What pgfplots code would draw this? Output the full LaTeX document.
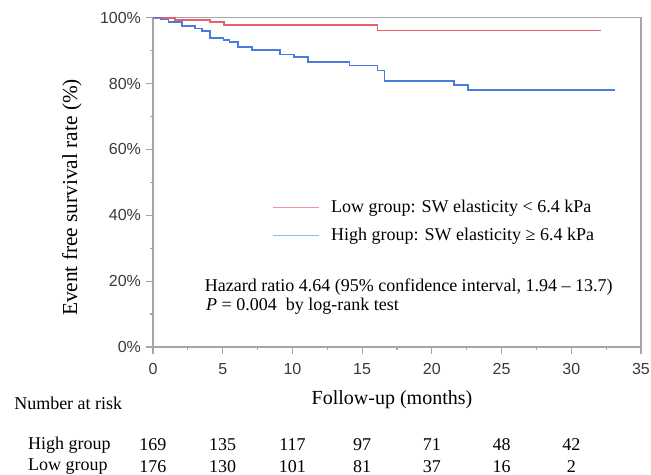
\documentclass[border=0pt]{standalone}
\usepackage{pgfplots}
\pgfplotsset{compat=1.18}
\usepackage{fontspec}
\setmainfont{Liberation Serif}
\newfontfamily\tickfont{Liberation Sans}
\definecolor{axgray}{HTML}{A6A6A6}
\definecolor{tickgray}{HTML}{3A3A3A}
\definecolor{kmred}{HTML}{E8606C}
\definecolor{kmblue}{HTML}{4A7BDF}
\definecolor{legred}{HTML}{F2959A}
\definecolor{legblue}{HTML}{8FBCEA}
\begin{document}
\begin{tikzpicture}[rt/.style={inner sep=0pt, font=\fontsize{13.5}{16}\selectfont}]
\useasboundingbox (-114.75pt,-96pt) rectangle (373.5pt,260.25pt);
\begin{axis}[
  at={(0pt,0pt)}, anchor=origin,
  x=10.457pt, y=2.47pt,
  xmin=0, xmax=35, ymin=0, ymax=100,
  clip=false,
  axis line style={axgray, line width=0.9pt},
  tick style={axgray, line width=0.9pt},
  tick align=outside,
  xtick pos=bottom, ytick pos=left,
  xtick={0,5,...,35}, ytick={0,20,...,100},
  minor xtick={2.5,7.5,...,32.5}, minor ytick={10,30,...,90},
  major tick length=5.5pt, minor tick length=2.5pt,
  /pgf/number format/assume math mode=true,
  ticklabel style={font=\tickfont\fontsize{12}{14}\selectfont, text=tickgray},
  xticklabel style={yshift=-3.5pt},
  yticklabel={\pgfmathprintnumber{\tick}\%},
  xlabel={Follow-up (months)},
  ylabel={Event free survival rate (\%)},
  xlabel style={font=\fontsize{15}{18}\selectfont, at={(axis description cs:0.4898,-0.161)}, anchor=center},
  ylabel style={font=\fontsize{16}{19}\selectfont, at={(axis description cs:-0.166,0.454)}, anchor=center},
  legend style={at={(axis cs:8.51,38.05)}, anchor=west, draw=none, fill=none,
    inner xsep=0pt, inner ysep=0pt, row sep=7.5pt, column sep=9pt,
    font=\fontsize{13.5}{16}\selectfont,
    nodes={inner sep=0pt, text height=10pt, text depth=3.5pt},
    cells={anchor=west}},
  legend image code/.code={\draw[#1] (0pt,0pt) -- (34.5pt,0pt);},
]
\addlegendimage{legred, line width=1pt}
\addlegendentry{Low group: SW elasticity < 6.4 kPa}
\addlegendimage{legblue, line width=1pt}
\addlegendentry{High group: SW elasticity ≥ 6.4 kPa}

% Low group (red)
\addplot[const plot, kmred, line width=1.3pt, forget plot] coordinates {
 (0,100) (1.6,99.4) (4.1,98.6) (5.1,97.7) (16.1,96.1) (32.1,96.1)};
% High group (blue)
\addplot[const plot, kmblue, line width=1.2pt, forget plot] coordinates {
 (0,100) (0.55,99.4) (1.1,98.7) (2.1,97.4) (3.0,96.7) (3.5,96.0) (4.1,93.8)
 (5.05,93.3) (5.5,92.6) (6.1,91.1) (7.1,90.1) (9.1,88.8) (10.1,88.1)
 (11.1,86.5) (14.1,85.5) (16.1,84.0) (16.6,80.7) (21.6,79.6) (22.6,78.1) (33.1,78.1)};

\node[rt, anchor=west] at (axis cs:3.7,18.3) {Hazard ratio 4.64 (95\% confidence interval, 1.94 – 13.7)};
\node[rt, anchor=west] at (axis cs:3.8,12.3) {\textit{P} = 0.004\enspace by log-rank test};

\node[rt, anchor=west] at (axis cs:-9.97,-17.0) {Number at risk};
\node[rt, anchor=west] at (axis cs:-8.97,-29.7) {High group};
\node[rt, anchor=west] at (axis cs:-8.97,-36.3) {Low group};
\node[rt] at (axis cs:0,-29.7) {169};
\node[rt] at (axis cs:5,-29.7) {135};
\node[rt] at (axis cs:10,-29.7) {117};
\node[rt] at (axis cs:15,-29.7) {97};
\node[rt] at (axis cs:20,-29.7) {71};
\node[rt] at (axis cs:25,-29.7) {48};
\node[rt] at (axis cs:30,-29.7) {42};
\node[rt] at (axis cs:0,-36.3) {176};
\node[rt] at (axis cs:5,-36.3) {130};
\node[rt] at (axis cs:10,-36.3) {101};
\node[rt] at (axis cs:15,-36.3) {81};
\node[rt] at (axis cs:20,-36.3) {37};
\node[rt] at (axis cs:25,-36.3) {16};
\node[rt] at (axis cs:30,-36.3) {2};
\end{axis}
\end{tikzpicture}
\end{document}
